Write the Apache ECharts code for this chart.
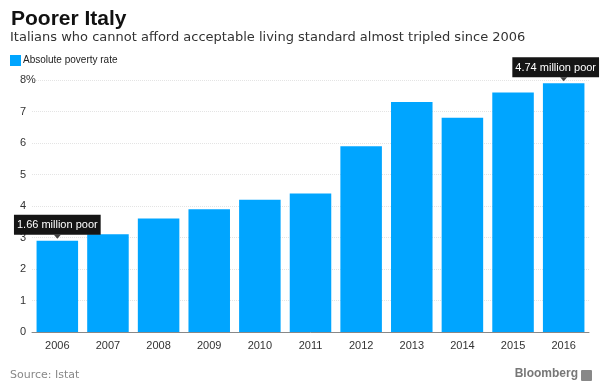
<!DOCTYPE html>
<html><head><meta charset="utf-8">
<script src="https://cdn.jsdelivr.net/npm/echarts@6/dist/echarts.min.js"></script>
<style>html,body{margin:0;padding:0;background:#fff}#c{width:600px;height:388px}</style>
</head><body><div id="c"></div>
<script>
const categories = ['2006','2007','2008','2009','2010','2011','2012','2013','2014','2015','2016'];
const values = [2.9, 3.1, 3.6, 3.9, 4.2, 4.4, 5.9, 7.3, 6.8, 7.6, 7.9];
const annotations = {0: '1.66 million poor', 10: '4.74 million poor'};
const yTicks = [0, 1, 2, 3, 4, 5, 6, 7, 8];

const chart = echarts.init(document.getElementById('c'));
const barData = values.map((v, i) => {
  const item = {value: v};
  if (annotations[i]) {
    item.label = {
      show: true, position: 'top', distance: 6,
      formatter: annotations[i],
      backgroundColor: '#151515', color: '#fff',
      padding: [5, 3, 4, 3], fontSize: 11, fontFamily: 'Liberation Sans',
      offset: i === 10 ? [-8, 0] : [0, 0]
    };
  }
  return item;
});
const ptrData = values.map((v, i) => annotations[i] ? [categories[i], v] : null).filter(Boolean);

chart.setOption({
  animation: false,
  grid: {left: 32, right: 11, top: 80, bottom: 56},
  title: [
    {text: 'Poorer Italy', left: 6, top: 4, textStyle: {fontFamily: 'Liberation Sans', fontWeight: 'bold', fontSize: 21, color: '#111'}},
    {text: 'Italians who cannot afford acceptable living standard almost tripled since 2006', left: 5, top: 26,
     textStyle: {fontFamily: 'DejaVu Sans', fontWeight: 'normal', fontSize: 13, color: '#333'}}
  ],
  legend: {
    left: 10, top: 55, padding: 0, itemWidth: 11, itemHeight: 11, itemGap: 4,
    icon: 'rect',
    textStyle: {fontFamily: 'Liberation Sans', fontSize: 10, color: '#222', padding: [0,0,0,-3]},
    data: ['Absolute poverty rate']
  },
  xAxis: {
    type: 'category', data: categories,
    axisLine: {lineStyle: {color: '#888'}},
    axisTick: {show: false},
    axisLabel: {fontFamily: 'Liberation Sans', fontSize: 11, color: '#333', margin: 8}
  },
  yAxis: {
    type: 'value', min: 0, max: 8, interval: 1,
    axisLine: {show: false}, axisTick: {show: false},
    splitLine: {lineStyle: {color: '#e4e4e4', type: 'dotted'}},
    axisLabel: {
      align: 'left', margin: 12, fontFamily: 'Liberation Sans', fontSize: 11, color: '#333',
      formatter: v => v === 8 ? '8%' : String(v)
    }
  },
  series: [
    {
      name: 'Absolute poverty rate', type: 'bar', data: barData,
      barCategoryGap: '18%', itemStyle: {color: '#00a5ff'}
    },
    {
      name: 'ptr', type: 'scatter', data: ptrData, symbol: 'triangle', symbolRotate: 180,
      symbolSize: [7, 4], symbolOffset: [0, -4], itemStyle: {color: '#151515'}, silent: true, z: 5
    }
  ],
  graphic: [
    {type: 'text', left: 10, top: 370, style: {text: 'Source: Istat', font: '11px "DejaVu Sans"', fill: '#888'}},
    {type: 'text', right: 22, top: 368, style: {text: 'Bloomberg', font: 'bold 12px "Liberation Sans"', fill: '#777'}},
    {type: 'rect', right: 8, top: 370, shape: {width: 11, height: 11, r: 1}, style: {fill: '#888'}}
  ]
});
</script></body></html>
